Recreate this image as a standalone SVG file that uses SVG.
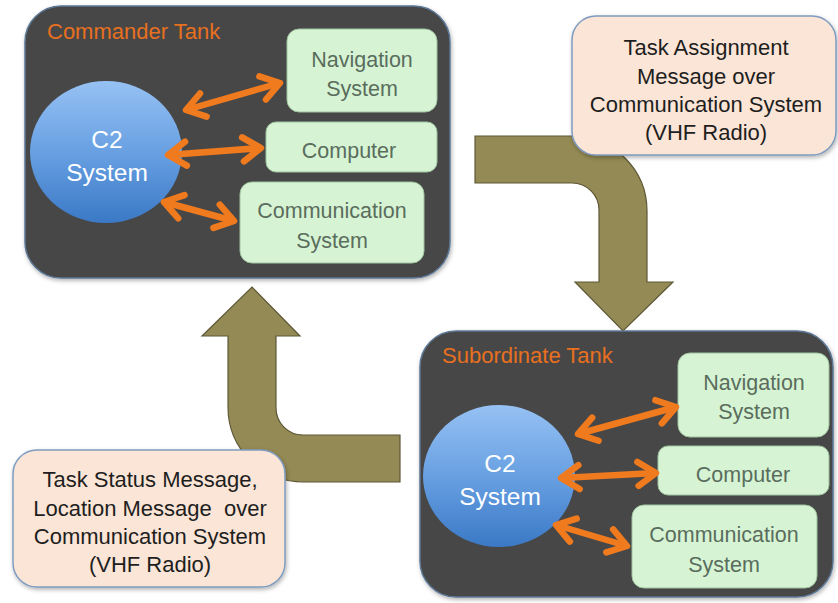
<svg xmlns="http://www.w3.org/2000/svg" width="838" height="603" viewBox="0 0 838 603">
<style>
.tank{fill:#474747;stroke:#5d7896;stroke-width:1.5}
.tlabel{font-family:"Liberation Sans",Arial,sans-serif;font-size:22px;fill:#E8701F}
.gbox{fill:#D6F4D4;stroke:#9fc39f;stroke-width:1}
.gtxt{font-family:"Liberation Sans",Arial,sans-serif;font-size:21.5px;fill:#5a6d5d;text-anchor:middle}
.ctxt{font-family:"Liberation Sans",Arial,sans-serif;font-size:24.5px;fill:#ffffff;text-anchor:middle}
.call{fill:#FAE5D6;stroke:#7f9cc0;stroke-width:1.5}
.calltxt{font-family:"Liberation Sans",Arial,sans-serif;font-size:22px;fill:#1e1e1e;text-anchor:middle;white-space:pre}
.big{fill:#948A55;stroke:#5e5837;stroke-width:1.2}
.oa{fill:none;stroke:#F07A1E;stroke-width:6.5;marker-start:url(#oh);marker-end:url(#oh)}
</style>
<defs>
<linearGradient id="blue" x1="0" y1="0" x2="0" y2="1">
<stop offset="0" stop-color="#96c1f3"/>
<stop offset="0.5" stop-color="#68a0e2"/>
<stop offset="1" stop-color="#3b79c6"/>
</linearGradient>
<marker id="oh" viewBox="-24 -16 28 32" refX="0" refY="0" markerWidth="28" markerHeight="32" markerUnits="userSpaceOnUse" orient="auto-start-reverse" overflow="visible">
<path d="M-18,-12 L0,0 L-18,12" fill="none" stroke="#F07A1E" stroke-width="6.5" stroke-linecap="round" stroke-linejoin="round"/>
</marker>
<filter id="sh" x="-10%" y="-10%" width="120%" height="120%">
<feDropShadow dx="1" dy="2" stdDeviation="2" flood-color="#000" flood-opacity="0.3"/>
</filter>
</defs>

<g id="big-arrows">
<path id="arrow-down" class="big" d="M475,136 H572 A75,75 0 0 1 647,211 V282 H673 L623,331 L575,282 H599 V210 A27,27 0 0 0 572,183 H475 Z"/>
<path id="arrow-up" class="big" transform="rotate(180 437.5 309)" d="M475,136 H572 A75,75 0 0 1 647,211 V282 H673 L623,331 L575,282 H599 V210 A27,27 0 0 0 572,183 H475 Z"/>
</g>

<g id="commander-tank">
<rect class="tank" x="25" y="6" width="425" height="272" rx="36" filter="url(#sh)"/>
<text class="tlabel" x="47" y="39">Commander Tank</text>
</g>
<g id="cmd-nav">
<rect class="gbox" x="287" y="29" width="150" height="83" rx="12"/>
<text class="gtxt" x="362" y="67">Navigation</text>
<text class="gtxt" x="362" y="96">System</text>
</g>
<g id="cmd-computer">
<rect class="gbox" x="266" y="122" width="171" height="50" rx="10"/>
<text class="gtxt" x="349" y="158">Computer</text>
</g>
<g id="cmd-comm">
<rect class="gbox" x="240" y="182" width="184" height="81" rx="12"/>
<text class="gtxt" x="332" y="218">Communication</text>
<text class="gtxt" x="332" y="248">System</text>
</g>
<g id="cmd-c2">
<ellipse cx="106" cy="152" rx="76" ry="71" fill="url(#blue)"/>
<text class="ctxt" x="107" y="148">C2</text>
<text class="ctxt" x="107" y="181">System</text>
</g>

<g id="subordinate-tank">
<rect class="tank" x="420" y="331" width="413" height="266" rx="36" filter="url(#sh)"/>
<text class="tlabel" x="442" y="363">Subordinate Tank</text>
</g>
<g id="sub-nav">
<rect class="gbox" x="678" y="353" width="151" height="84" rx="12"/>
<text class="gtxt" x="754" y="390">Navigation</text>
<text class="gtxt" x="754" y="419">System</text>
</g>
<g id="sub-computer">
<rect class="gbox" x="658" y="446" width="171" height="49" rx="10"/>
<text class="gtxt" x="743" y="482">Computer</text>
</g>
<g id="sub-comm">
<rect class="gbox" x="632" y="505" width="185" height="83" rx="12"/>
<text class="gtxt" x="724" y="542">Communication</text>
<text class="gtxt" x="724" y="572">System</text>
</g>
<g id="sub-c2">
<ellipse cx="499" cy="476" rx="76" ry="71" fill="url(#blue)"/>
<text class="ctxt" x="500" y="472">C2</text>
<text class="ctxt" x="500" y="505">System</text>
</g>

<g id="connectors">
<path class="oa" d="M186,110 L280,83"/>
<path class="oa" d="M168,155 L261,148"/>
<path class="oa" d="M164,202 L234,221"/>
<path class="oa" d="M578,434 L676,407"/>
<path class="oa" d="M561,478 L656,473"/>
<path class="oa" d="M556,525 L627,546"/>
</g>

<g id="callout-assignment">
<rect class="call" x="572" y="16" width="264" height="139" rx="24" filter="url(#sh)"/>
<text class="calltxt" x="706" y="55">Task Assignment</text>
<text class="calltxt" x="706" y="84">Message over</text>
<text class="calltxt" x="706" y="112">Communication System</text>
<text class="calltxt" x="706" y="140">(VHF Radio)</text>
</g>

<g id="callout-status">
<rect class="call" x="13" y="450" width="272" height="137" rx="24" filter="url(#sh)"/>
<text class="calltxt" x="150" y="487">Task Status Message,</text>
<text class="calltxt" x="150" y="516" xml:space="preserve">Location Message  over</text>
<text class="calltxt" x="150" y="544">Communication System</text>
<text class="calltxt" x="150" y="572">(VHF Radio)</text>
</g>
</svg>
